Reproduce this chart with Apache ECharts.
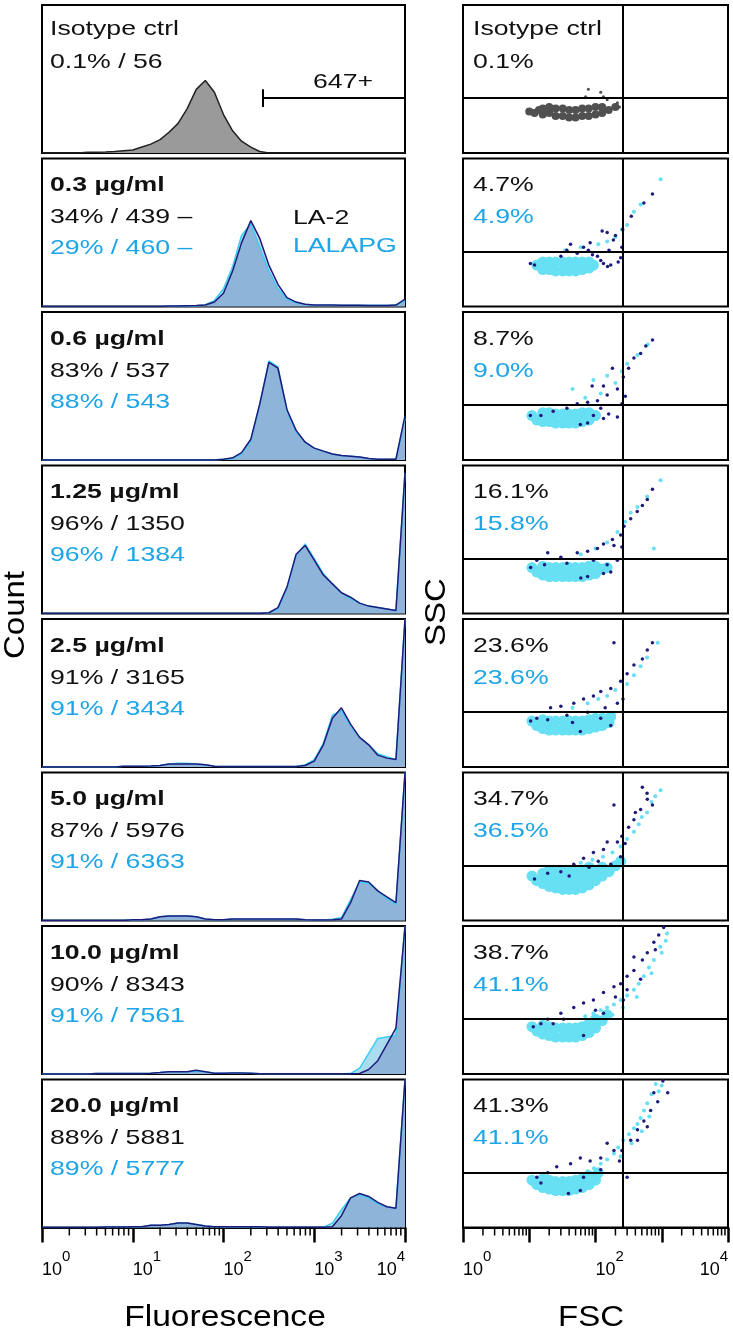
<!DOCTYPE html>
<html>
<head>
<meta charset="utf-8">
<title>LA-2 / LALAPG binding</title>
<script src="https://cdn.jsdelivr.net/npm/echarts@6/dist/echarts.min.js"></script>
<style>
  html, body { margin: 0; padding: 0; background: #fff; }
  #chart { width: 733px; height: 1335px; }
</style>
</head>
<body>
<div id="chart"></div>
<script>
// ---- data ----
var concLabels = ['0.3 µg/ml', '0.6 µg/ml', '1.25 µg/ml', '2.5 µg/ml', '5.0 µg/ml', '10.0 µg/ml', '20.0 µg/ml'];
var la2Pos = [34, 83, 96, 91, 87, 90, 88];
var la2Mfi = [439, 537, 1350, 3165, 5976, 8343, 5881];
var lalPos = [29, 88, 96, 91, 91, 91, 89];
var lalMfi = [460, 543, 1384, 3434, 6363, 7561, 5777];
var la2Gate = ['4.7%', '8.7%', '16.1%', '23.6%', '34.7%', '38.7%', '41.3%'];
var lalGate = ['4.9%', '9.0%', '15.8%', '23.6%', '36.5%', '41.1%', '41.1%'];

// histogram bins, 0.1 decade apart
var fluorBins = [1, 1.26, 1.58, 2, 2.51, 3.16, 3.98, 5.01, 6.31, 7.94,
  10, 12.6, 15.8, 20, 25.1, 31.6, 39.8, 50.1, 63.1, 79.4,
  100, 126, 158, 200, 251, 316, 398, 501, 631, 794,
  1000, 1259, 1585, 1995, 2512, 3162, 3981, 5012, 6310, 7943, 10000];
var minorTicks = [2, 3, 4, 5, 6, 7, 8, 9, 20, 30, 40, 50, 60, 70, 80, 90,
  200, 300, 400, 500, 600, 700, 800, 900, 2000, 3000, 4000, 5000, 6000, 7000, 8000, 9000];

// counts as % of panel height
var isoHist = [0,0,0,0,0,0.5,0.5,0.7,1,1.5, 2,4,6,9,14,20,30,43,49,41, 26,15,8,4,1,0,0,0,0,0, 0,0,0,0,0,0,0,0,0,0, 0];
var la2Hist = [
  [0,0,0,0,0,0,0,0,0,0, 0,0,0,0,0.3,0.3,0.5,0.7,1,3, 9,24,43,58,46,28,15,6,3,1.5, 1,1,1,0.8,0.8,0.8,0.7,0.7,0.7,1, 5],
  [0,0,0,0,0,0,0,0,0,0, 0,0,0,0,0,0,0,0,0,0, 0.5,1.5,5,14,38,66,62,34,20,12, 8,6,4,3,2.5,2,1,0.5,0.5,0.5, 30],
  [0,0,0,0,0,0,0,0,0,0, 0,0,0,0,0,0,0,0,0,0, 0,0,0,0,0,0.5,4,18,40,46, 36,26,20,14,11,7,5,4,3,2, 95],
  [0,0,0,0,0,0,0,0,0,0.5, 0.5,0.5,0.7,1,2,2,2,2,1.5,0.5, 0.3,0.3,0.3,0.3,0.3,0.3,0.3,0.3,0.3,1, 4,15,33,40,29,20,15,8,6,5, 100],
  [0,0,0,0,0,0,0,0,0,0, 0.5,0.5,1,2.5,3,3,3,2.5,1,0.5, 0.5,1,1,1,1,1,1,1,1,0.5, 0.3,0.3,0.5,1,12,27,26,20,16,12, 100],
  [0,0,0,0,0,0,0.3,0.3,0.3,0.3, 0.3,0.3,0.5,1,1.5,1.5,1.5,2.5,1.5,0.5, 0.5,0.7,0.7,0.5,0.2,0.2,0.2,0.2,0.2,0.2, 0.2,0.2,0.2,0.2,0.2,0.3,3,9,20,31, 100],
  [0,0,0,0,0,0,0,0.3,0.3,0.3, 0.5,0.5,1.5,1.5,2,3,3,2,1,0.5, 0.5,0.5,0.5,0.5,0.5,0.2,0.2,0.2,0.2,0.2, 0.2,0.2,0.5,8,20,23,21,17,14,13, 100]
];
var lalHist = [
  [0,0,0,0,0,0,0,0,0,0, 0,0,0,0,0.3,0.3,0.5,0.5,1.2,4, 12,27,48,56,40,24,12,5,2.5,1.5, 0.8,0.8,0.8,0.8,0.8,0.8,0.8,0.8,0.8,1, 4],
  [0,0,0,0,0,0,0,0,0,0, 0,0,0,0,0,0,0,0,0,0, 0.5,1,4,13,37,67,63,33,19,12, 8,6,4,3,2.5,2,1,0.5,0.5,0.5, 28],
  [0,0,0,0,0,0,0,0,0,0, 0,0,0,0,0,0,0,0,0,0, 0,0,0,0,0,0.5,3,17,39,47, 37,27,20,14,10,7,5,4,3,2, 95],
  [0,0,0,0,0,0,0,0,0,0.5, 0.5,0.5,0.7,1,2,2.5,2.5,2,1.5,0.5, 0.3,0.3,0.3,0.3,0.3,0.3,0.3,0.3,0.3,1.5, 5,16,35,38,28,20,15,9,7,5, 100],
  [0,0,0,0,0,0,0,0,0,0, 0.5,0.5,1,2.5,3,3,3,2.5,1,0.5, 0.5,1,1,1,1,1,1,1,1,0.5, 0.3,0.3,0.8,2,14,26,25,20,15,11, 100],
  [0,0,0,0,0,0,0.3,0.3,0.3,0.3, 0.3,0.3,0.5,1,1.5,1.5,1.5,2,1.5,0.5, 0.5,0.7,0.7,0.5,0.2,0.2,0.2,0.2,0.2,0.2, 0.2,0.2,0.2,0.2,0.3,4,14,24,25,26, 100],
  [0,0,0,0,0,0,0,0.3,0.3,0.3, 0.5,0.5,1.5,1.5,2,3,3,2,1,0.5, 0.5,0.5,0.5,0.5,0.5,0.2,0.2,0.2,0.2,0.2, 0.2,0.2,3,12,20,22,20,16,14,13, 100]
];

// FSC / SSC dot plots: [FSC, SSC % of panel height]
var isoBlob = [[10,28],[12,27],[14,29],[16,26],[16,30],[20,27],[20,31],[25,25],[25,30],[32,25],[32,30],[40,24],[40,29],
  [50,24],[50,29],[63,25],[63,30],[79,25],[79,30],[100,26],[100,31],[126,27],[126,31],[158,29],[200,31]];
var isoDots = [[78,43],[71,38],[132,38],[182,31],[214,34],[120,41],[150,36],[230,31]];
var lalBlob = [
  [[13,28],[16,25],[16,30],[20,25],[20,30],[25,24],[25,30],[32,24],[32,30],[40,24],[40,30],[50,24],[50,30],[63,25],[63,30],[80,26],[80,30],[93,28]],
  [[11,30],[13,27],[16,26],[16,32],[20,26],[20,32],[25,25],[25,31],[32,25],[32,31],[40,25],[40,31],[50,25],[50,31],[63,26],[63,32],[80,27],[80,32],[100,30]],
  [[11,31],[13,28],[16,26],[16,32],[20,25],[20,31],[25,25],[25,31],[32,25],[32,31],[40,25],[40,31],[50,25],[50,31],[63,25],[63,31],[80,26],[80,32],[100,27],[100,32],[126,30],[150,31]],
  [[11,31],[13,28],[16,26],[16,32],[20,25],[20,31],[25,25],[25,31],[32,25],[32,31],[40,25],[40,31],[50,25],[50,31],[63,25],[63,31],[80,26],[80,32],[100,27],[100,33],[126,28],[126,33],[160,30],[170,34]],
  [[11,30],[13,27],[16,25],[16,32],[20,23],[20,29],[20,34],[25,22],[25,28],[25,34],[32,21],[32,27],[32,33],[40,21],[40,27],[40,33],[50,21],[50,27],[50,33],
   [63,22],[63,28],[63,34],[80,24],[80,30],[80,36],[100,27],[100,33],[126,30],[126,36],[160,33],[200,37],[240,40]],
  [[11,32],[13,29],[16,27],[16,33],[20,26],[20,32],[25,25],[25,31],[32,25],[32,31],[40,25],[40,31],[50,25],[50,31],[63,26],[63,32],[80,28],[80,34],[100,31],[100,37],[126,36],[150,40]],
  [[11,32],[13,29],[16,27],[16,33],[20,26],[20,32],[25,25],[25,31],[32,25],[32,31],[40,25],[40,31],[50,26],[50,32],[63,27],[63,33],[80,29],[80,35],[100,32],[110,37]]
];
var lalDots = [
  [[960,86],[380,64],[480,69],[300,55],[200,47],[150,44],[110,42],[60,40],[35,38],[250,52]],
  [[45,48],[93,54],[150,57],[430,71],[616,78],[300,65],[200,52],[120,45],[70,42],[250,60]],
  [[960,90],[760,44],[340,68],[214,55],[430,72],[600,79],[150,48],[100,44],[60,40],[280,62]],
  [[870,84],[480,68],[300,56],[150,48],[76,43],[600,74],[380,62],[200,52],[110,46],[45,40]],
  [[960,88],[700,80],[600,73],[450,65],[380,60],[300,55],[240,50],[180,46],[130,43],[90,41],[60,39],[500,70],[800,84]],
  [[1150,90],[950,86],[760,77],[640,72],[537,66],[450,61],[380,57],[300,53],[240,50],[190,47],[150,45],[120,43],[93,41],[70,39],
   [1000,82],[700,68],[420,52],[260,45],[180,40],[1200,95]],
  [[810,97],[700,90],[605,84],[540,79],[480,74],[430,70],[380,67],[320,63],[263,59],[220,54],[190,50],[150,46],[120,43],[95,40],[76,38],
   [900,92],[650,75],[500,65],[350,57],[240,48],[1000,96]]
];
var la2Dots = [
  [[10.4,29],[12,28],[30,34],[37,38],[53,36],[66,40],[78,38],[90,35],[107,34],[120,31],[132,29],[152,27],[170,28],[126,51],[150,50],
   [200,48],[186,45],[240,33],[257,52],[347,61],[537,70],[724,76],[42,42],[83,43],[250,40],[160,38],[220,30]],
  [[725,81],[575,77],[480,72],[380,69],[316,62],[263,56],[180,62],[132,50],[214,48],[150,44],[89,50],[282,43],[107,40],[37,35],
   [23,33],[10.4,30],[15,30],[53,38],[76,39],[120,35],[93,30],[59,24],[76,25],[132,28],[158,31],[214,29],[250,38]],
  [[724,84],[605,77],[510,73],[427,69],[340,64],[269,59],[240,53],[180,50],[132,47],[107,44],[76,42],[53,41],[30,38],[19,41],
   [13,36],[10.5,31],[17,33],[37,34],[93,36],[150,33],[214,36],[76,25],[132,27],[170,28],[190,46],[250,45],[60,24]],
  [[724,84],[605,79],[510,73],[380,69],[300,63],[240,58],[190,84],[170,53],[120,51],[93,48],[66,46],[47,43],[30,41],[21,40],
   [13,33],[10.5,31],[19,32],[37,35],[76,37],[120,33],[170,28],[59,24],[214,43],[260,46],[140,40],[45,30]],
  [[510,90],[605,82],[724,78],[480,75],[380,68],[316,63],[250,57],[190,78],[214,53],[132,48],[93,46],[66,42],[47,38],[30,33],
   [19,32],[12,28],[170,38],[240,43],[280,52],[600,86],[400,73],[150,53],[110,40],[40,30],[80,36]],
  [[1070,99],[900,94],[760,89],[605,82],[510,77],[380,70],[300,66],[240,61],[190,59],[132,55],[93,50],[66,48],[47,45],[30,41],
   [19,37],[11.5,32],[15,34],[23,34],[33,37],[66,26],[132,41],[263,50],[380,79],[480,64],[300,57],[800,84],[200,52],[100,43]],
  [[1040,99],[1230,91],[870,85],[680,79],[537,72],[430,66],[340,59],[250,52],[190,52],[150,57],[120,47],[83,45],[59,47],[42,43],
   [26,41],[19,37],[13,34],[15,30],[66,34],[120,39],[39,23],[59,25],[300,34],[430,59],[605,68],[760,91],[230,45]]
];

var fluorGate = 270;   // 647+ marker
var fscGate = 260;
var sscGate = 37;

// ---- layout ----
var FONT = '"Liberation Sans", Arial, sans-serif';
var NAVY = '#1f1b7c', CYAN = '#66e0f2', BLUE_TXT = '#1ea5e8';
var panelH = 148;
var tops = [];
for (var i = 0; i < 8; i++) tops.push(5 + i * 153.5);
var LEFT_X = 42, LEFT_W = 363, RIGHT_X = 463, RIGHT_W = 265;

var chart = echarts.init(document.getElementById('chart'));

function pairs(arr) {
  return fluorBins.map(function (b, k) { return [b, arr[k]]; });
}

function logLabel(skipOdd) {
  return {
    show: true, margin: 22, align: 'left', alignMaxLabel: 'right',
    formatter: function (v) {
      var e = Math.round(Math.log(v) / Math.LN10);
      if (skipOdd && e % 2 === 1) return '';
      return '{b|10}{e|' + e + '}';
    },
    rich: {
      b: { fontSize: 18, fontFamily: FONT, color: '#000', verticalAlign: 'bottom', lineHeight: 30 },
      e: { fontSize: 15, fontFamily: FONT, color: '#000', verticalAlign: 'top', lineHeight: 30 }
    }
  };
}

function xAxisFor(gi, last, skipOdd) {
  return {
    gridIndex: gi, type: 'log', logBase: 10, min: 1, max: 10000, splitNumber: 4,
    axisLine: { show: last, lineStyle: { color: '#000', width: 2 } },
    axisTick: { show: last, length: 15, lineStyle: { color: '#000', width: 2.5 } },
    axisLabel: last ? logLabel(skipOdd) : { show: false },
    splitLine: { show: false }
  };
}

function minorTickSeries(xi) {
  return {
    type: 'custom', xAxisIndex: xi, yAxisIndex: xi, clip: false, silent: true, z: 5,
    data: minorTicks.map(function (v) { return [v, 0]; }),
    renderItem: function (params, api) {
      var p = api.coord([api.value(0), 0]);
      return { type: 'line', shape: { x1: p[0], y1: p[1], x2: p[0], y2: p[1] + 8 },
        style: { stroke: '#000', lineWidth: 1.5 } };
    }
  };
}

var grids = [], xAxes = [], yAxes = [], series = [], graphics = [];

function txt(x, y, s, color, bold, size, sx) {
  return {
    type: 'text', x: x, y: y, scaleX: sx || 1.27, silent: true,
    style: { text: s, fill: color, fontSize: size || 21, fontWeight: bold ? 'bold' : 'normal', fontFamily: FONT,
      textVerticalAlign: 'middle', verticalAlign: 'middle' }
  };
}

// left histogram grids 0..7, right dot plot grids 8..15
for (var p = 0; p < 16; p++) {
  var right = p >= 8, row = p % 8, last = row === 7;
  grids.push({ left: right ? RIGHT_X : LEFT_X, top: tops[row], width: right ? RIGHT_W : LEFT_W, height: panelH,
    show: true, borderColor: '#000', borderWidth: 2, backgroundColor: 'transparent' });
  xAxes.push(xAxisFor(p, last, right));
  yAxes.push({ gridIndex: p, type: 'value', min: 0, max: 100, show: false });
}

var gateMark = {
  silent: true, symbol: 'none', label: { show: false },
  lineStyle: { color: '#000', width: 2, type: 'solid' },
  data: [{ xAxis: fscGate }, { yAxis: sscGate }]
};

// isotype row
series.push({
  type: 'line', xAxisIndex: 0, yAxisIndex: 0, data: pairs(isoHist), symbol: 'none',
  lineStyle: { color: '#222', width: 1.5 }, areaStyle: { color: '#9a9a9a', opacity: 1 },
  markLine: { silent: true, symbol: 'none', label: { show: false }, lineStyle: { color: '#000', width: 2, type: 'solid' },
    data: [[{ coord: [fluorGate, sscGate] }, { coord: [10000, sscGate] }],
           [{ coord: [fluorGate, 31] }, { coord: [fluorGate, 43] }]] }
});
series.push({ type: 'scatter', xAxisIndex: 8, yAxisIndex: 8, data: isoBlob, symbolSize: 8,
  itemStyle: { color: '#505050', opacity: 1 }, markLine: gateMark });
series.push({ type: 'scatter', xAxisIndex: 8, yAxisIndex: 8, data: isoDots, symbolSize: 3,
  itemStyle: { color: '#505050', opacity: 1 } });

graphics.push(txt(50, tops[0] + 24, 'Isotype ctrl', '#111'));
graphics.push(txt(50, tops[0] + 57, '0.1% / 56', '#111'));
graphics.push(txt(313, tops[0] + 77, '647+', '#111'));
graphics.push(txt(473, tops[0] + 24, 'Isotype ctrl', '#111'));
graphics.push(txt(473, tops[0] + 57, '0.1%', '#111'));

for (var k = 0; k < 7; k++) {
  var gi = k + 1, py = tops[gi];
  series.push({
    type: 'line', xAxisIndex: gi, yAxisIndex: gi, data: pairs(lalHist[k]), symbol: 'none',
    lineStyle: { color: '#3ccdf2', width: 1.5 }, areaStyle: { color: 'rgb(170,220,240)', opacity: 1 }
  });
  series.push({
    type: 'line', xAxisIndex: gi, yAxisIndex: gi, data: pairs(la2Hist[k]), symbol: 'none',
    lineStyle: { color: NAVY, width: 1.5 }, areaStyle: { color: 'rgb(60,60,150)', opacity: 0.25 }
  });
  series.push({ type: 'scatter', xAxisIndex: 8 + gi, yAxisIndex: 8 + gi, data: lalBlob[k], symbolSize: 11,
    itemStyle: { color: CYAN, opacity: 1 }, markLine: gateMark });
  series.push({ type: 'scatter', xAxisIndex: 8 + gi, yAxisIndex: 8 + gi, data: lalDots[k], symbolSize: 4,
    itemStyle: { color: CYAN, opacity: 1 } });
  series.push({ type: 'scatter', xAxisIndex: 8 + gi, yAxisIndex: 8 + gi, data: la2Dots[k], symbolSize: 3.5,
    itemStyle: { color: NAVY, opacity: 1 } });

  var dash = k === 0 ? ' –' : '';
  graphics.push(txt(50, py + 27, concLabels[k], '#111', true));
  graphics.push(txt(50, py + 59, la2Pos[k] + '% / ' + la2Mfi[k] + dash, '#111'));
  graphics.push(txt(50, py + 90, lalPos[k] + '% / ' + lalMfi[k] + dash, BLUE_TXT));
  graphics.push(txt(473, py + 27, la2Gate[k], '#111'));
  graphics.push(txt(473, py + 59, lalGate[k], BLUE_TXT));
}
graphics.push(txt(293, tops[1] + 60, 'LA-2', '#111'));
graphics.push(txt(293, tops[1] + 88, 'LALAPG', BLUE_TXT));

series.push(minorTickSeries(7));
series.push(minorTickSeries(15));

// axis titles
function title(x, y, s, rot, sx) {
  return { type: 'text', x: x, y: y, rotation: rot, scaleX: sx, silent: true,
    style: { text: s, fill: '#000', fontSize: 30, fontFamily: FONT, textAlign: 'center', align: 'center',
      textVerticalAlign: 'middle', verticalAlign: 'middle' } };
}
graphics.push(title(16, 615, 'Count', Math.PI / 2, 1.1));
graphics.push(title(437, 612, 'SSC', Math.PI / 2, 1.1));
graphics.push(title(225, 1318, 'Fluorescence', 0, 1.12));
graphics.push(title(591, 1318, 'FSC', 0, 1.1));

chart.setOption({
  animation: false,
  backgroundColor: '#fff',
  grid: grids,
  xAxis: xAxes,
  yAxis: yAxes,
  series: series,
  graphic: { elements: graphics }
});
</script>
</body>
</html>
